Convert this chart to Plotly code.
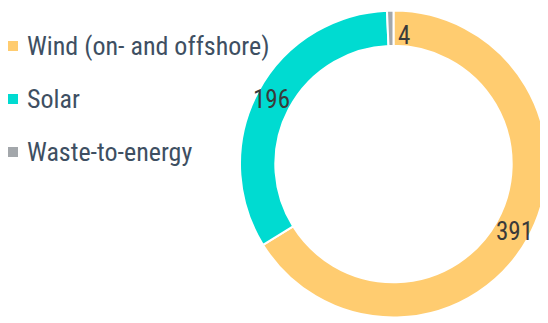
import math
import plotly.graph_objects as go

categories = ["Wind (on- and offshore)", "Solar", "Waste-to-energy"]
values = [391, 196, 4]
colors = ["#FFCC70", "#00DBD1", "#A3A7AB"]

W, H = 548, 323
OFF = 8  # page body margin compensation (px)
FONT = "Liberation Sans Narrow, Roboto Condensed, Arial Narrow, Roboto, sans-serif"

def fx(x):
    return (x - OFF) / W

def fy(y):
    return 1 - (y - OFF) / H

# donut geometry (screen px)
CX, CY, R, HOLE = 393.5, 164.0, 153.5, 0.77

fig = go.Figure()
fig.add_trace(go.Pie(
    labels=categories,
    values=values,
    sort=False,
    direction="clockwise",
    hole=HOLE,
    marker=dict(colors=colors, line=dict(color="white", width=2)),
    textinfo="none",
    showlegend=False,
    domain=dict(x=[fx(CX - R), fx(CX + R)], y=[fy(CY + R), fy(CY - R)]),
    hoverinfo="label+value",
))

# data labels, placed at each slice's mid-angle
label_r = [138, 138, 129]
label_anchor = ["center", "center", "left"]
label_xshift = [0, 0, 5]
total = sum(values)
cum = 0
for i, v in enumerate(values):
    mid = (cum + v / 2) / total * 2 * math.pi
    cum += v
    x = CX + label_r[i] * math.sin(mid)
    y = CY - label_r[i] * math.cos(mid)
    fig.add_annotation(
        x=fx(x), y=fy(y), xref="paper", yref="paper",
        text=str(v), showarrow=False, xanchor=label_anchor[i], yanchor="middle",
        xshift=label_xshift[i],
        font=dict(family=FONT, size=25, color="#3A3A3A"),
    )

# legend
leg_text_y = [46, 99, 152]
for i, (name, col) in enumerate(zip(categories, colors)):
    yc = leg_text_y[i]
    fig.add_shape(
        type="rect", xref="paper", yref="paper",
        x0=fx(8), x1=fx(18), y0=fy(yc + 5), y1=fy(yc - 5),
        fillcolor=col, line=dict(width=0),
    )
    fig.add_annotation(
        x=fx(25), y=fy(yc), xref="paper", yref="paper",
        text=name, showarrow=False, xanchor="left", yanchor="middle",
        font=dict(family=FONT, size=26, color="#3E4F62"),
    )

fig.update_layout(
    width=W, height=H,
    margin=dict(l=0, r=0, t=0, b=0),
    paper_bgcolor="white", plot_bgcolor="white",
    showlegend=False,
)

fig.write_html("out.html")
